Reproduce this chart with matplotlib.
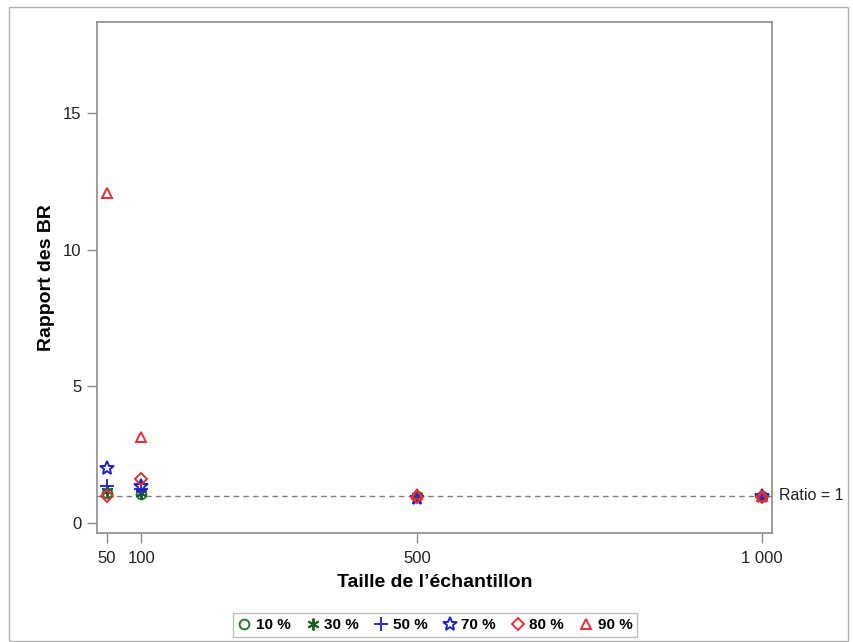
import matplotlib.pyplot as plt
from matplotlib.patches import Rectangle

plt.rcParams['font.family'] = ['Liberation Sans', 'DejaVu Sans']

# tailles d'échantillon
tailles = [50, 100, 500, 1000]
tick_labels = ["50", "100", "500", "1 000"]

# rapport des BR par pourcentage
series = {
    "10 %": [1.10, 1.05, 1.00, 1.00],
    "30 %": [1.15, 1.10, 1.00, 1.00],
    "50 %": [1.35, 1.25, 1.00, 1.00],
    "70 %": [2.01, 1.35, 0.92, 0.98],
    "80 %": [0.98, 1.60, 0.95, 0.93],
    "90 %": [12.07, 3.15, 1.05, 0.97],
}
markers = ["o", (6, 2, 0), "+", "*", "D", "^"]
colors = ["#2a7a2a", "#1f5f1f", "#2b2bd0", "#2020c8", "#e0303a", "#e0303a"]
sizes = [7, 8.5, 9.5, 10.5, 6.5, 7.5]

fig = plt.figure(figsize=(8.54, 6.42), dpi=100)
ax = fig.add_axes([97 / 854, 1 - 533 / 642, (772 - 97) / 854, (533 - 22) / 642])

# cadre extérieur
fig.patches.append(Rectangle((9 / 854, 0.002), (848 - 9) / 854, 1 - 7 / 642 - 0.002,
                             transform=fig.transFigure, fill=False,
                             edgecolor="#b0b0b0", linewidth=1))

ax.axhline(1, color="#808080", linestyle=(0, (4, 3)), linewidth=1, zorder=1)

handles = []
for (name, vals), m, c, s in zip(series.items(), markers, colors, sizes):
    h, = ax.plot(tailles, vals, linestyle="none", marker=m, markersize=s,
                 markerfacecolor="none", markeredgecolor=c, markeredgewidth=1.4,
                 label=name, zorder=3)
    handles.append(h)

ax.set_xlim(35.5, 1014.5)
ax.set_ylim(-0.37, 18.33)
ax.set_xticks(tailles)
ax.set_xticklabels(tick_labels)
ax.set_yticks([0, 5, 10, 15])

for sp in ax.spines.values():
    sp.set_color("#8c8c8c")
    sp.set_linewidth(1.2)
ax.tick_params(direction="out", length=7, width=1, color="#8c8c8c",
               labelsize=12, labelcolor="#222222")
ax.tick_params(axis="x", pad=6)
ax.tick_params(axis="y", pad=4)

ax.text(1.01, 1, "Ratio = 1", transform=ax.get_yaxis_transform(), va="center",
        ha="left", fontsize=11.5, color="#222222")

ax.set_xlabel("Taille de l\u2019échantillon", fontsize=14, fontweight="bold", labelpad=6)
ax.set_ylabel("Rapport des BR", fontsize=14, fontweight="bold", labelpad=6)

leg = fig.legend(handles=handles, loc="center", bbox_to_anchor=(435 / 854, 1 - 625 / 642),
                 ncol=6, frameon=True, fancybox=False, edgecolor="#b0b0b0",
                 handlelength=0.9, handletextpad=0.3, columnspacing=1.0,
                 borderpad=0.3, prop={"weight": "bold", "size": 11})
leg.get_frame().set_linewidth(1)

fig.savefig("out.png", dpi=100)
